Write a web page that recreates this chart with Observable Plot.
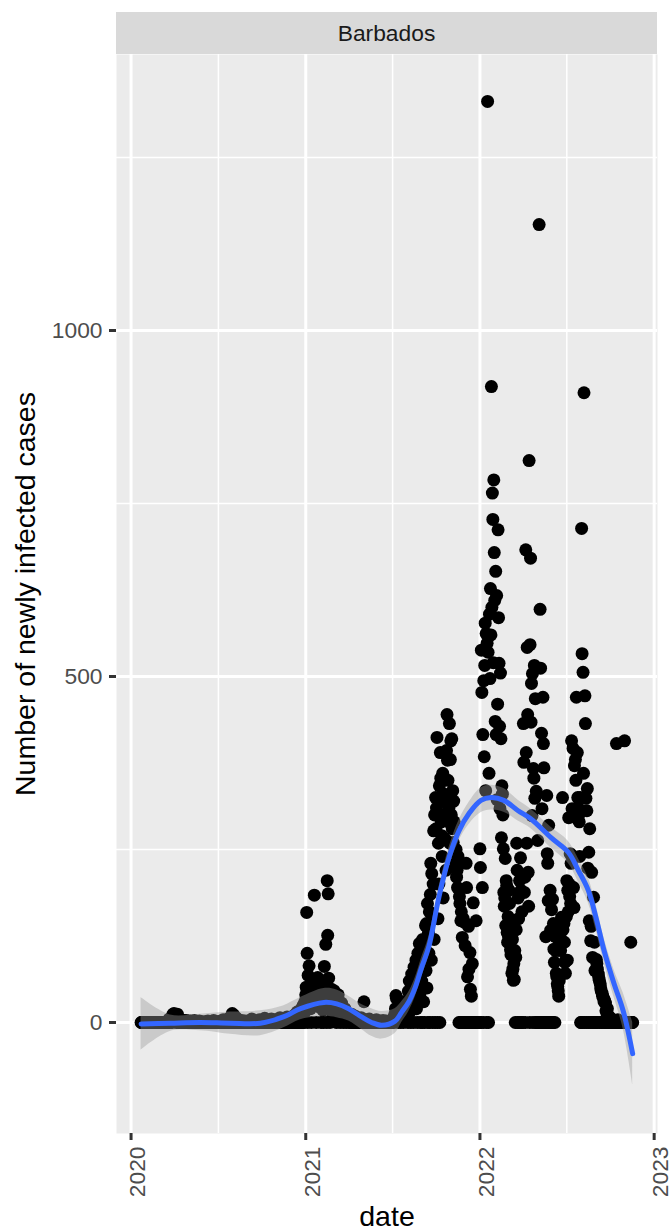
<!DOCTYPE html>
<html><head><meta charset="utf-8">
<script src="https://cdn.jsdelivr.net/npm/d3@7"></script>
<script src="https://cdn.jsdelivr.net/npm/@observablehq/plot@0.6"></script>
<style>html,body{margin:0;padding:0;background:#fff;} svg{display:block;}</style>
</head><body><div id="chart"></div>
<script>
// ---------- labels & ticks ----------
const facetLabel = "Barbados";
const xTitle = "date";
const yTitle = "Number of newly infected cases";
const xTickDates = ["2020-01-01", "2021-01-01", "2022-01-01", "2023-01-01"];
const xMinorDates = ["2020-07-02", "2021-07-02", "2022-07-02"];
const yTicks = [0, 500, 1000];
const yMinor = [250, 750, 1250];

// ---------- daily new cases ----------
const start2020 = "2020-01-22";
const cases2020 = [
  /*Jan*/ 0,0,0,0,0,0,0,0,0,0,
  /*Feb*/ 0,0,0,0,0,0,0,0,0,0, 0,0,0,0,0,0,0,0,0,0, 0,0,0,0,0,0,0,0,0,
  /*Mar*/ 0,0,0,0,0,0,0,0,0,0, 0,0,0,0,0,0,2,0,1,3, 5,0,2,4,1,6,0,8,12,3, 13,
  /*Apr*/ 5,10,3,8,0,4,12,2,0,6, 3,1,0,2,4,0,1,3,0,0, 2,1,0,0,3,0,1,0,0,2,
  /*May*/ 0,1,0,0,2,0,0,0,1,0, 0,0,3,0,0,0,0,1,0,0, 0,0,2,0,0,0,0,0,1,0, 0,
  /*Jun*/ 0,0,0,1,0,0,0,0,0,2, 0,0,0,0,1,0,0,0,0,0, 0,3,0,0,0,0,0,1,0,0,
  /*Jul*/ 0,0,1,0,0,0,2,0,0,0, 0,4,0,0,1,0,0,0,0,3, 0,0,0,6,0,2,0,0,8,5, 13,
  /*Aug*/ 3,0,11,0,2,0,0,7,0,1, 0,0,4,0,0,2,0,0,0,3, 0,0,1,0,0,0,2,0,0,0, 1,
  /*Sep*/ 0,0,2,0,0,0,1,0,0,5, 0,0,0,3,0,0,0,0,2,0, 0,1,0,0,0,4,0,0,0,1,
  /*Oct*/ 0,0,0,2,0,0,6,0,0,1, 0,0,3,0,0,0,2,0,0,0, 5,0,0,1,0,0,0,4,0,0, 2,
  /*Nov*/ 0,3,0,0,1,0,0,7,0,0, 2,0,0,5,0,0,0,3,0,1, 0,0,8,0,0,2,0,0,4,0,
  /*Dec*/ 0,6,0,0,3,0,10,0,2,0, 0,5,0,15,0,0,8,0,4,0, 12,0,20,0,9,0,25,0,14,30, 18
];
const start2021 = "2021-01-01";
const cases2021 = [
  /*Jan*/ 40,51,159,100,0,68,28,82,45,30, 20,55,0,38,25,42,60,33,184,48, 30,52,0,40,27,65,44,36,58,22, 47,
  /*Feb*/ 30,0,45,25,60,18,0,38,81,22, 50,113,30,0,205,126,186,64,40,28, 0,35,20,48,15,30,12,25,
  /*Mar*/ 46,20,10,32,15,0,25,18,8,40, 12,5,22,0,14,10,28,6,15,3, 0,12,9,20,4,7,0,10,5,3, 8,
  /*Apr*/ 5,0,3,8,2,0,12,4,1,0, 6,3,0,2,9,1,0,4,0,2, 5,0,1,3,0,0,7,2,0,1,
  /*May*/ 0,2,30,1,0,4,0,2,0,1, 3,0,0,5,1,0,2,0,0,3, 1,0,0,2,0,1,0,0,4,0, 1,
  /*Jun*/ 0,1,0,0,2,0,0,1,0,0, 0,3,0,0,1,0,0,0,2,0, 0,1,0,0,0,0,2,0,1,0,
  /*Jul*/ 0,2,5,0,8,3,12,20,39,35, 6,15,0,10,18,4,22,9,0,14, 25,7,16,30,0,11,20,28,5,18, 24,
  /*Aug*/ 10,30,0,45,20,60,15,35,0,50, 70,25,40,55,0,80,30,65,45,90, 20,75,0,100,55,85,114,40,94,0, 70,
  /*Sep*/ 60,0,120,85,30,110,0,95,140,75, 143,50,172,0,130,100,160,0,185,230, 90,215,150,0,200,277,120,300,0,325,
  /*Oct*/ 280,310,412,0,150,259,200,342,0,390, 353,290,270,240,360,180,300,320,330,265, 300,220,393,445,379,350,290,310,432,259, 380,
  /*Nov*/ 407,300,410,280,335,260,320,290,245,250, 230,250,210,220,195,240,230,0,182,172, 0,147,160,0,123,0,150,0,145,0,
  /*Dec*/ 111,0,230,195,0,66,0,139,77,0, 101,48,0,38,0,85,0,173,0,0, 0,0,0,147,0,0,0,0,0,0, 0
];
const start2022 = "2022-01-01";
const cases2022 = [
  /*Jan*/ 251,224,0,538,477,195,416,0,494,384, 516,577,335,562,0,548,1331,535,0,360, 590,497,627,560,919,600,765,727,520,784, 679,
  /*Feb*/ 610,435,652,416,617,322,460,712,585,519, 428,309,505,410,267,342,330,300,251,188, 168,180,237,140,205,198,130,116,
  /*Mar*/ 153,124,191,172,114,105,98,139,71,120, 77,61,85,62,104,0,94,134,259,220, 0,180,150,0,205,0,238,191,0,160, 210,
  /*Apr*/ 0,432,376,188,210,0,683,390,259,542, 445,217,168,812,0,546,671,434,490,299, 504,0,367,353,516,324,468,0,334,0,
  /*May*/ 0,263,0,0,1153,0,597,512,0,418, 309,0,470,403,368,0,0,0,124,0, 328,244,230,176,285,0,0,191,133,0, 163,
  /*Jun*/ 0,178,0,143,106,87,0,124,104,71, 66,56,52,46,38,60,116,124,104,134, 152,116,325,134,152,143,116,87,71,90,
  /*Jul*/ 153,205,90,191,160,296,200,182,244,172, 230,407,309,241,396,195,166,371,300,380, 350,470,295,390,325,310,300,290,240,325, 0,
  /*Aug*/ 0,714,533,0,506,360,910,0,472,432, 324,0,306,338,223,0,246,147,280,0, 118,139,217,0,94,0,181,0,116,75, 0,
  /*Sep*/ 0,91,85,77,0,70,65,61,0,56, 50,46,0,42,38,0,35,30,32,0, 28,17,0,13,20,0,10,0,8,5,
  /*Oct*/ 0,6,0,0,3,0,0,0,2,0, 0,0,0,403,0,0,4,0,0,0, 0,1,0,0,0,0,0,0,0,0, 407,
  /*Nov*/ 0,0,0,0,0,0,0,0,0,0, 0,0,116,0,0,0,0
];

// ---------- smoothed trend and its confidence band ----------
const smoothDates = ["2020-01-22","2020-03-23","2020-05-25","2020-07-27","2020-09-28","2020-11-15","2020-12-21",
  "2021-02-08","2021-03-07","2021-04-01","2021-04-28","2021-05-19","2021-06-09","2021-07-07","2021-07-21",
  "2021-08-05","2021-08-18","2021-09-01","2021-09-16","2021-10-07","2021-10-28","2021-11-18","2021-12-09",
  "2022-01-03","2022-01-24","2022-02-20","2022-03-22","2022-04-18","2022-05-30","2022-07-05","2022-07-26",
  "2022-08-16","2022-09-01","2022-09-18","2022-10-09","2022-10-28","2022-11-17"];
const smoothFit   = [-2,-1,0,-1,-1,8,20,29,27,20,8,0,-4,2,15,30,50,80,110,181,238,277,302,321,325,321,306,294,267,246,220,191,152,104,56,17,-45];
const smoothLower = [-40,-13,-12,-17,-19,-8,4,9,7,2,-10,-20,-24,-16,0,16,36,66,96,167,224,262,286,303,307,304,291,280,252,230,203,173,134,86,36,-9,-90];
const smoothUpper = [36,11,12,15,17,24,36,49,47,38,26,20,16,20,30,44,64,94,124,195,252,292,318,339,343,338,321,308,282,262,237,209,170,122,76,43,0];

// ---------- build tables ----------
const DAY = 864e5;
const utc = s => new Date(s + "T00:00:00Z");
function expand(start, arr) {
  const t0 = utc(start).getTime();
  return arr.map((v, i) => ({date: new Date(t0 + i * DAY), cases: v}));
}
const points = [...expand(start2020, cases2020), ...expand(start2021, cases2021), ...expand(start2022, cases2022)];
const smooth = smoothDates.map((d, i) => ({date: utc(d), fit: smoothFit[i], lo: smoothLower[i], hi: smoothUpper[i]}));
const xMajor = xTickDates.map(utc);
const xMinor = xMinorDates.map(utc);
const yearFmt = d3.utcFormat("%Y");

// ---------- layout ----------
const W = 672, H = 1231;
const mT = 54, mB = 98, mL = 116, mR = 15;
const FONT = "'Liberation Sans', Arial, Helvetica, sans-serif";
const tickFont = 22.8, titleFont = 28.5;

const chart = Plot.plot({
  width: W, height: H,
  marginTop: mT, marginBottom: mB, marginLeft: mL, marginRight: mR,
  style: {fontFamily: FONT, background: "white", overflow: "visible"},
  x: {type: "utc", domain: [new Date("2019-12-01T12:00:00Z"), new Date("2023-01-08T00:00:00Z")], axis: null},
  y: {domain: [-160.4, 1398.8], axis: null},
  marks: [
    Plot.frame({fill: "#EBEBEB", stroke: null}),
    Plot.ruleY(yMinor, {stroke: "white", strokeWidth: 1.5}),
    Plot.ruleX(xMinor, {stroke: "white", strokeWidth: 1.5}),
    Plot.ruleY(yTicks, {stroke: "white", strokeWidth: 3}),
    Plot.ruleX(xMajor, {stroke: "white", strokeWidth: 3}),
    Plot.dot(points, {x: "date", y: "cases", r: 6.5, fill: "black", stroke: null}),
    Plot.areaY(smooth, {x: "date", y1: "lo", y2: "hi", fill: "#999999", fillOpacity: 0.4, curve: "catmull-rom"}),
    Plot.line(smooth, {x: "date", y: "fit", stroke: "#3366FF", strokeWidth: 5, curve: "catmull-rom"}),
    Plot.axisX(xMajor, {anchor: "bottom", tickSize: 7, tickPadding: 0, tickFormat: () => "", stroke: "#333333", strokeWidth: 3, label: null}),
    Plot.axisY(yTicks, {anchor: "left", tickSize: 7, tickPadding: 0, tickFormat: () => "", stroke: "#333333", strokeWidth: 3, label: null}),
    Plot.text(yTicks, {y: d => d, text: d => String(d), frameAnchor: "left", dx: -14, textAnchor: "end", lineAnchor: "middle", fontSize: tickFont, fill: "#4D4D4D"}),
    Plot.text(xMajor, {x: d => d, text: d => yearFmt(d), frameAnchor: "bottom", dy: 13, dx: -2, rotate: -90, textAnchor: "end", lineAnchor: "top", fontSize: tickFont, fill: "#4D4D4D"}),
    Plot.text([xTitle], {frameAnchor: "bottom", dy: 92, textAnchor: "middle", lineAnchor: "bottom", fontSize: titleFont, fill: "black"}),
    Plot.text([yTitle], {frameAnchor: "left", dx: -82, rotate: -90, textAnchor: "middle", lineAnchor: "bottom", fontSize: titleFont, fill: "black"})
  ]
});

// facet strip
const svg = d3.select(chart);
const strip = svg.append("g");
strip.append("rect").attr("x", mL).attr("y", 12).attr("width", W - mL - mR).attr("height", mT - 12).attr("fill", "#D9D9D9");
strip.append("text").attr("x", mL + (W - mL - mR) / 2).attr("y", 33).attr("dy", "0.35em")
  .attr("text-anchor", "middle").attr("font-family", FONT).attr("font-size", tickFont).attr("fill", "#1A1A1A").text(facetLabel);

document.getElementById("chart").appendChild(chart);
</script>
</body></html>
